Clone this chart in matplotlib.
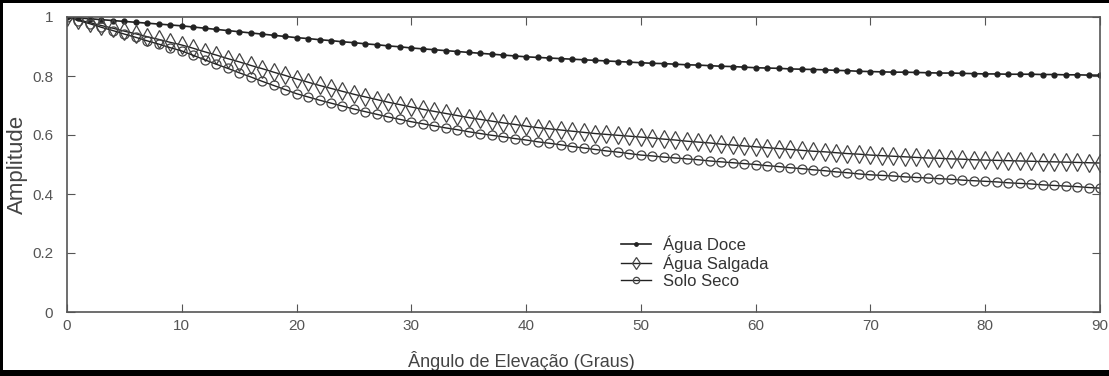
import matplotlib
matplotlib.use("Agg")
import matplotlib.pyplot as plt
from matplotlib.patches import Rectangle

plt.rcParams['font.family'] = ['Liberation Sans', 'DejaVu Sans']

# Elevation angle (degrees), one point per degree
angles = list(range(0, 91))

agua_doce = [
    1.000, 0.997, 0.994, 0.991, 0.988, 0.985, 0.982, 0.979, 0.976, 0.973, 0.970,
    0.966, 0.962, 0.958, 0.954, 0.950, 0.946, 0.942, 0.938, 0.934, 0.930,
    0.927, 0.923, 0.920, 0.916, 0.913, 0.909, 0.906, 0.902, 0.899, 0.895,
    0.892, 0.889, 0.886, 0.883, 0.880, 0.877, 0.874, 0.871, 0.868, 0.865,
    0.863, 0.861, 0.859, 0.857, 0.855, 0.853, 0.851, 0.849, 0.847, 0.845,
    0.843, 0.842, 0.840, 0.838, 0.837, 0.835, 0.833, 0.832, 0.830, 0.828,
    0.827, 0.826, 0.824, 0.823, 0.822, 0.821, 0.819, 0.818, 0.816, 0.815,
    0.814, 0.813, 0.813, 0.812, 0.811, 0.810, 0.810, 0.809, 0.808, 0.807,
    0.807, 0.806, 0.806, 0.806, 0.805, 0.805, 0.804, 0.804, 0.803, 0.803,
]

agua_salgada = [
    1.000, 0.990, 0.981, 0.971, 0.962, 0.952, 0.943, 0.933, 0.924, 0.914, 0.905,
    0.894, 0.882, 0.871, 0.859, 0.848, 0.836, 0.825, 0.813, 0.802, 0.790,
    0.779, 0.768, 0.758, 0.748, 0.738, 0.729, 0.720, 0.711, 0.703, 0.695,
    0.687, 0.680, 0.673, 0.666, 0.659, 0.653, 0.647, 0.641, 0.636, 0.630,
    0.625, 0.621, 0.617, 0.613, 0.609, 0.605, 0.602, 0.599, 0.596, 0.593,
    0.590, 0.586, 0.583, 0.579, 0.576, 0.573, 0.569, 0.566, 0.563, 0.560,
    0.557, 0.554, 0.551, 0.548, 0.545, 0.543, 0.540, 0.537, 0.535, 0.532,
    0.530, 0.528, 0.526, 0.524, 0.522, 0.521, 0.519, 0.518, 0.516, 0.515,
    0.514, 0.513, 0.512, 0.511, 0.510, 0.509, 0.508, 0.507, 0.506, 0.505,
]

solo_seco = [
    1.000, 0.988, 0.977, 0.965, 0.954, 0.942, 0.931, 0.919, 0.908, 0.896, 0.885,
    0.870, 0.855, 0.840, 0.826, 0.811, 0.797, 0.782, 0.768, 0.754, 0.740,
    0.729, 0.718, 0.708, 0.698, 0.688, 0.679, 0.670, 0.661, 0.653, 0.645,
    0.638, 0.631, 0.624, 0.618, 0.611, 0.605, 0.599, 0.594, 0.588, 0.583,
    0.577, 0.572, 0.567, 0.561, 0.556, 0.551, 0.546, 0.542, 0.537, 0.532,
    0.529, 0.525, 0.522, 0.519, 0.516, 0.512, 0.509, 0.506, 0.503, 0.500,
    0.496, 0.493, 0.489, 0.486, 0.482, 0.479, 0.475, 0.472, 0.468, 0.465,
    0.463, 0.461, 0.458, 0.456, 0.454, 0.452, 0.450, 0.447, 0.445, 0.443,
    0.441, 0.438, 0.436, 0.434, 0.431, 0.429, 0.427, 0.425, 0.422, 0.420,
]

x_ticks = [0, 10, 20, 30, 40, 50, 60, 70, 80, 90]
y_ticks = [0, 0.2, 0.4, 0.6, 0.8, 1.0]
y_tick_labels = ['0', '0.2', '0.4', '0.6', '0.8', '1']

fig = plt.figure(figsize=(11.09, 3.76), dpi=100)
ax = fig.add_axes([67 / 1109, 1 - 312 / 376, 1033 / 1109, 295 / 376])

lc = '#222222'
ax.plot(angles, agua_doce, color=lc, lw=1.2, marker='o', ms=3.5,
        mfc=lc, mec=lc, label='Água Doce')
ax.plot(angles, agua_salgada, color=lc, lw=1.0, marker='d', ms=9,
        mfc='none', mec='#444444', mew=0.9, label='Água Salgada')
ax.plot(angles, solo_seco, color=lc, lw=1.0, marker='o', ms=6.5,
        mfc='none', mec='#444444', mew=0.9, label='Solo Seco')

ax.set_xlim(0, 90)
ax.set_ylim(0, 1)
ax.set_xticks(x_ticks)
ax.set_yticks(y_ticks)
ax.set_yticklabels(y_tick_labels)
ax.tick_params(direction='in', top=True, right=True, length=6,
               labelsize=11, colors='#555555', labelcolor='#555555')
ax.tick_params(axis='x', pad=5)
ax.tick_params(axis='y', pad=10)
for s in ax.spines.values():
    s.set_color('#555555')
    s.set_linewidth(1.2)

ax.set_xlabel('Ângulo de Elevação (Graus)', fontsize=13, color='#444444')
ax.xaxis.set_label_coords(0.44, -0.133)
ax.set_ylabel('Amplitude', fontsize=16, color='#444444')
ax.yaxis.set_label_coords(-0.038, 0.5)

ax.legend(loc='upper left', bbox_to_anchor=(0.525, 0.30), frameon=False,
          fontsize=12, handlelength=1.8, labelspacing=0.1, markerscale=0.7,
          handletextpad=0.7, borderpad=0.2, labelcolor='#333333')

# black border strips (left, top, bottom) like the scanned figure
for x0, y0, w, h in [(0, 0, 3 / 1109, 1), (0, 1 - 3 / 376, 1, 3 / 376),
                     (0, 0, 1, 6 / 376)]:
    fig.patches.append(Rectangle((x0, y0), w, h, transform=fig.transFigure,
                                 color='black', lw=0))

fig.savefig('out.png', dpi=100)
